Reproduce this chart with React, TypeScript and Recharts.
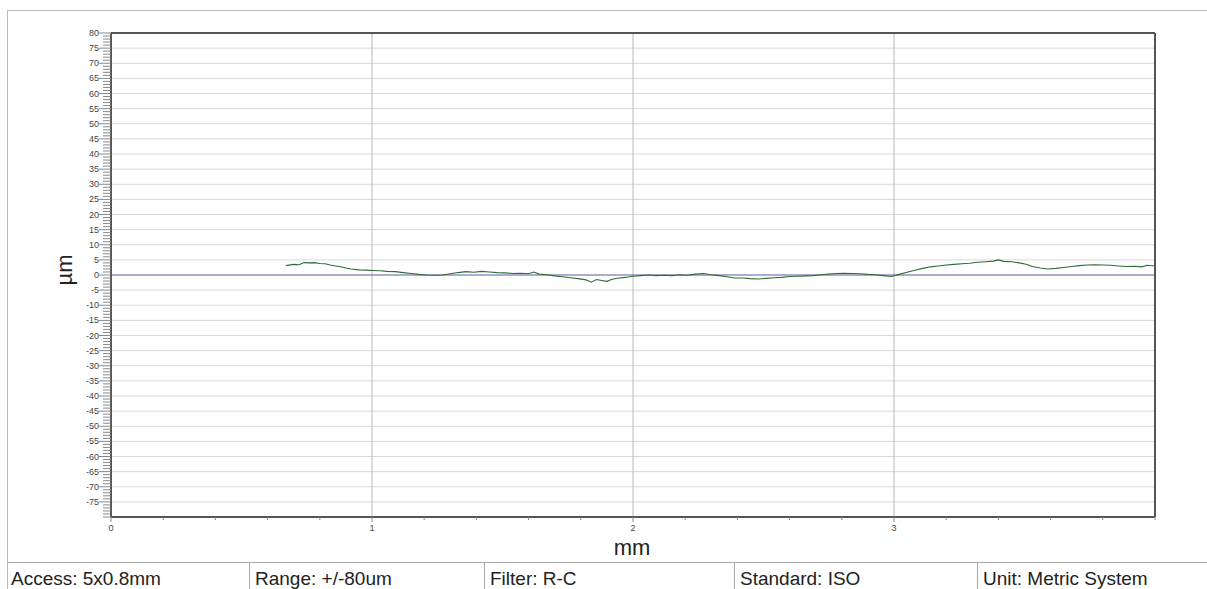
import React from "react";
import {
  LineChart,
  Line,
  XAxis,
  YAxis,
  CartesianGrid,
  ReferenceLine,
} from "recharts";

// profile trace (mm along surface, height in µm)
const mmPos = [
  0.67, 0.7, 0.72, 0.74, 0.76, 0.78, 0.8, 0.82, 0.84, 0.86, 0.88, 0.9, 0.92, 0.95,
  0.98, 1.0, 1.03, 1.06, 1.09, 1.12, 1.15, 1.18, 1.21, 1.24, 1.27, 1.3, 1.33, 1.36,
  1.39, 1.42, 1.45, 1.48, 1.51, 1.54, 1.57, 1.6, 1.62, 1.64, 1.67, 1.7, 1.73, 1.76,
  1.79, 1.82, 1.84, 1.86, 1.88, 1.9, 1.92, 1.94, 1.97, 2.0, 2.03, 2.06, 2.09, 2.12,
  2.15, 2.18, 2.21, 2.24, 2.27, 2.3, 2.33, 2.36, 2.39, 2.42, 2.45, 2.48, 2.51, 2.54,
  2.57, 2.6, 2.63, 2.66, 2.69, 2.72, 2.75, 2.78, 2.81, 2.84, 2.87, 2.9, 2.93, 2.96,
  2.99, 3.02, 3.05, 3.08, 3.11, 3.14, 3.17, 3.2, 3.23, 3.26, 3.29, 3.32, 3.35, 3.38,
  3.4, 3.42, 3.45, 3.48, 3.51, 3.53, 3.56, 3.59, 3.62, 3.65, 3.68, 3.71, 3.74, 3.77,
  3.8, 3.83, 3.86, 3.89, 3.92, 3.95, 3.97, 4.0,
];
const heightUm = [
  3.1, 3.5, 3.4, 4.1, 4.0, 4.1, 3.8, 3.7, 3.3, 3.0, 2.7, 2.3, 2.0, 1.7,
  1.6, 1.5, 1.4, 1.2, 1.1, 0.8, 0.5, 0.2, 0.0, -0.1, 0.0, 0.4, 0.8, 1.1,
  0.9, 1.2, 1.0, 0.8, 0.7, 0.5, 0.6, 0.4, 1.0, 0.3, 0.1, -0.3, -0.6, -0.9,
  -1.2, -1.6, -2.4, -1.5, -1.8, -2.1, -1.4, -1.1, -0.8, -0.4, -0.2, 0.0, -0.2, -0.1,
  -0.2, 0.1, -0.1, 0.3, 0.5, 0.1, -0.2, -0.6, -1.0, -1.0, -1.2, -1.3, -1.1, -0.9,
  -0.8, -0.5, -0.4, -0.3, -0.2, 0.1, 0.3, 0.5, 0.6, 0.5, 0.4, 0.2, 0.1, -0.2,
  -0.5, 0.2, 0.9, 1.6, 2.2, 2.7, 3.0, 3.3, 3.5, 3.7, 3.9, 4.2, 4.4, 4.6,
  5.0, 4.5, 4.4, 4.0, 3.5, 2.8, 2.3, 2.0, 2.2, 2.5, 2.8, 3.1, 3.3, 3.4,
  3.3, 3.2, 3.0, 2.8, 2.9, 2.7, 3.2, 3.0,
];

const xTicks = [0, 0.2, 0.4, 0.6, 0.8, 1, 1.2, 1.4, 1.6, 1.8, 2, 2.2, 2.4, 2.6, 2.8, 3, 3.2, 3.4, 3.6, 3.8, 4];
const xLabels = [0, 1, 2, 3];
const yTicks = Array.from({ length: 161 }, (_, i) => i - 80);
const yLabels = [80, 75, 70, 65, 60, 55, 50, 45, 40, 35, 30, 25, 20, 15, 10, 5, 0,
  -5, -10, -15, -20, -25, -30, -35, -40, -45, -50, -55, -60, -65, -70, -75];
const gridValues = yLabels.filter((v) => v !== 0 && v !== 80);

const footer = [
  { text: "Access: 5x0.8mm", x: 11 },
  { text: "Range: +/-80um", x: 255 },
  { text: "Filter: R-C", x: 490 },
  { text: "Standard: ISO", x: 740 },
  { text: "Unit: Metric System", x: 983 },
];

const data = mmPos.map((mm, i) => ({ mm, v: heightUm[i] }));
const FONT = "'Liberation Sans', Arial, sans-serif";

const YTick = (props: any) => {
  const { x, y, payload } = props;
  const v = payload.value;
  const major = yLabels.includes(v);
  return (
    <g>
      <line x1={x - (major ? 12 : 8)} x2={x} y1={y} y2={y} stroke="#888" strokeWidth={1} />
      {major && (
        <text x={x - 12} y={y} dy={3} textAnchor="end" fontSize={9} fill="#444" fontFamily={FONT}>
          {v}
        </text>
      )}
    </g>
  );
};

const XTick = (props: any) => {
  const { x, y, payload } = props;
  const v = payload.value;
  const major = xLabels.includes(v);
  return (
    <g>
      <line x1={x} x2={x} y1={y} y2={y + (major ? 5 : 3)} stroke="#888" strokeWidth={1} />
      {major && (
        <text x={x} y={y + 14} textAnchor="middle" fontSize={9} fill="#444" fontFamily={FONT}>
          {v}
        </text>
      )}
    </g>
  );
};

export default function App() {
  return (
    <div style={{ position: "absolute", left: 0, top: 0, width: 1207, height: 589, background: "#fff" }}>
      <LineChart
        width={1207}
        height={589}
        data={data}
        margin={{ top: 33, right: 52, left: 51, bottom: 42 }}
      >
        <CartesianGrid vertical={false} horizontalValues={gridValues} stroke="#d8d8d8" />
        <XAxis
          dataKey="mm"
          type="number"
          domain={[0, 4]}
          ticks={xTicks}
          interval={0}
          height={30}
          tickSize={0}
          tickMargin={0}
          tick={XTick}
          axisLine={{ stroke: "#555", strokeWidth: 2 }}
        />
        <YAxis
          type="number"
          domain={[-80, 80]}
          ticks={yTicks}
          interval={0}
          width={60}
          tickSize={0}
          tickMargin={0}
          tick={YTick}
          axisLine={{ stroke: "#555", strokeWidth: 2 }}
        />
        {xLabels.slice(1).map((v) => (
          <ReferenceLine key={v} x={v} stroke="#b8b8b8" strokeWidth={1} />
        ))}
        <ReferenceLine y={0} stroke="#5a5aa8" strokeWidth={1} />
        <ReferenceLine y={80} stroke="#555" strokeWidth={2} />
        <ReferenceLine x={4} stroke="#555" strokeWidth={2} />
        <Line
          type="linear"
          dataKey="v"
          stroke="#2f6b35"
          strokeWidth={1.1}
          dot={false}
          isAnimationActive={false}
        />
      </LineChart>
      <svg
        width={1207}
        height={589}
        style={{ position: "absolute", left: 0, top: 0, pointerEvents: "none" }}
      >
        <line x1={7} x2={1207} y1={10.5} y2={10.5} stroke="#bbb" />
        <line x1={7.5} x2={7.5} y1={10} y2={589} stroke="#bbb" />
        <line x1={7} x2={1207} y1={562.5} y2={562.5} stroke="#aaa" />
        {footer.slice(1).map((f) => (
          <line key={f.text} x1={f.x - 5.5} x2={f.x - 5.5} y1={562} y2={589} stroke="#aaa" />
        ))}
        {footer.map((f) => (
          <text key={f.text} x={f.x} y={585} fontSize={19} fill="#222" fontFamily={FONT}>
            {f.text}
          </text>
        ))}
        <text x={632} y={555} textAnchor="middle" fontSize={22} fill="#222" fontFamily={FONT}>
          mm
        </text>
        <text
          x={0}
          y={0}
          transform="translate(72 270) rotate(-90)"
          textAnchor="middle"
          fontSize={22}
          fill="#222"
          fontFamily={FONT}
        >
          µm
        </text>
      </svg>
    </div>
  );
}
